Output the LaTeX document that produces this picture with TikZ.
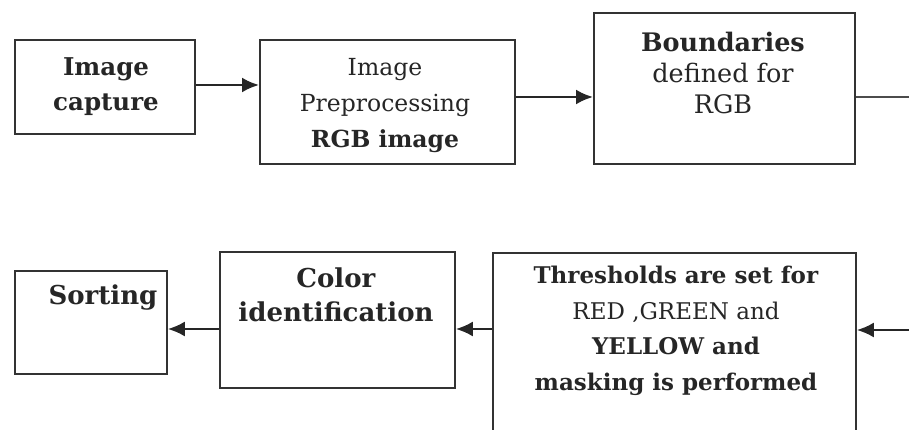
\documentclass[tikz,border=0pt]{standalone}
\usepackage{fontspec}
\setmainfont{DejaVu Serif}
\usetikzlibrary{arrows.meta}
\begin{document}
\begin{tikzpicture}[x=1pt,y=-1pt,
  box/.style={draw=black!80,line width=1.8pt,inner sep=0pt,anchor=north west},
  txt/.style 2 args={align=center,font=\fontsize{#1}{#2}\selectfont,text=black!85},
  conn/.style={line width=2.4pt,draw=black!85,-{Latex[length=17pt,width=15pt]}},
  plain/.style={line width=1.6pt,draw=black!70}]
\useasboundingbox (0,0) rectangle (909,430);
% row 1
\node[box,minimum width=180pt,minimum height=94pt] (b1) at (14,39) {};
\node[box,minimum width=255pt,minimum height=124pt] (b2) at (259,39) {};
\node[box,minimum width=261pt,minimum height=151pt] (b3) at (593,12) {};
% row 2
\node[box,minimum width=152pt,minimum height=103pt] (b6) at (14,270) {};
\node[box,minimum width=235pt,minimum height=136pt] (b5) at (219,251) {};
\node[box,minimum width=363pt,minimum height=180pt] (b4) at (492,252) {};
% texts
\node[txt={24.5}{35}] (t1) at (106,87) {\textbf{Image}\\\textbf{capture}};
\node[txt={23.5}{36}] (t2) at (385,106) {Image\\Preprocessing\\\textbf{RGB image}};
\node[txt={25.5}{31}] (t3) at (723,73) {\textbf{Boundaries}\\defined for\\RGB};
\node[txt={26}{34}] (t6) at (103,298) {\textbf{Sorting}};
\node[txt={26}{34}] (t5) at (336,295) {\textbf{Color}\\\textbf{identification}};
\node[txt={23}{35.5}] (t4) at (676,331) {\textbf{Thresholds are set for}\\RED ,GREEN and\\\textbf{YELLOW and}\\\textbf{masking is performed}};
% connectors
\coordinate (r1) at (909,97);
\coordinate (r2) at (909,330);
\draw[conn] (b1.east |- 0,85) -- (b2.west |- 0,85);
\draw[conn] (b2.east |- 0,97) -- (b3.west |- 0,97);
\draw[plain] (b3.east |- r1) -- (r1);
\draw[conn] (r2) -- (b4.east |- r2);
\draw[conn] (b4.west |- 0,329) -- (b5.east |- 0,329);
\draw[conn] (b5.west |- 0,329) -- (b6.east |- 0,329);
\end{tikzpicture}
\end{document}
